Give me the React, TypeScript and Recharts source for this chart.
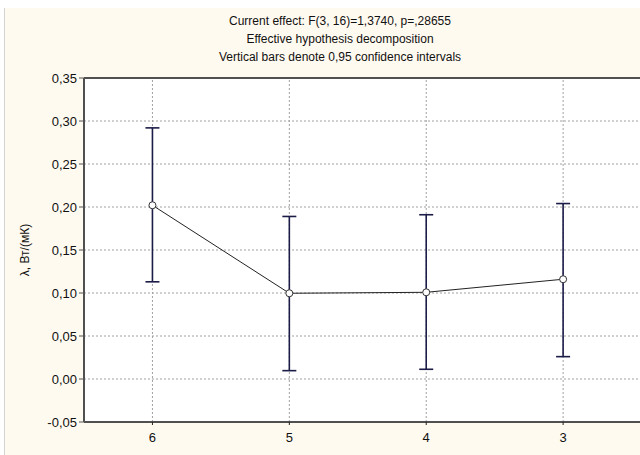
import React from 'react';
import {
  LineChart,
  Line,
  XAxis,
  YAxis,
  CartesianGrid,
  ErrorBar,
  ReferenceLine,
} from 'recharts';

const categories = ['6', '5', '4', '3'];
const means = [0.202, 0.0997, 0.1008, 0.116];
const ciLow = [0.113, 0.0097, 0.0113, 0.026];
const ciHigh = [0.292, 0.189, 0.191, 0.204];
const yTicks = [-0.05, 0, 0.05, 0.1, 0.15, 0.2, 0.25, 0.3, 0.35];
const xTicks = [0, 1, 2, 3];

const titleLines = [
  'Current effect: F(3, 16)=1,3740, p=,28655',
  'Effective hypothesis decomposition',
  'Vertical bars denote 0,95 confidence intervals',
];

const data = categories.map((c, i) => ({
  idx: i,
  name: c,
  mean: means[i],
  err: [means[i] - ciLow[i], ciHigh[i] - means[i]],
}));

const font = '"Liberation Sans", Arial, sans-serif';
const frame = '#505050';
const gridColor = '#a0a0a0';

const fmt = (v: number) => v.toFixed(2).replace('.', ',');

const YLabel = (props: any) => {
  const { viewBox } = props;
  const x = viewBox.x + 25;
  const y = viewBox.y + viewBox.height / 2;
  return (
    <text
      x={x}
      y={y}
      transform={`rotate(-90, ${x}, ${y})`}
      textAnchor="middle"
      dominantBaseline="central"
      fontSize={12}
      fontFamily={font}
      fill="#111"
    >
      λ, Вт/(мК)
    </text>
  );
};

export default function App() {
  return (
    <div
      style={{
        position: 'absolute',
        left: 0,
        top: 0,
        width: 640,
        height: 455,
        overflow: 'hidden',
        background: '#fff',
        fontFamily: font,
      }}
    >
      <div
        style={{
          position: 'absolute',
          left: 4,
          top: 8,
          width: 700,
          height: 455,
          background: '#fffaf0',
          borderLeft: '1px solid #d4d4d4',
        }}
      />
      <div
        style={{
          position: 'absolute',
          left: 140,
          top: 12,
          width: 400,
          textAlign: 'center',
          fontSize: 12,
          lineHeight: '18px',
          color: '#111',
        }}
      >
        {titleLines.map((t) => (
          <div key={t}>{t}</div>
        ))}
      </div>
      <div style={{ position: 'absolute', left: 0, top: 0 }}>
        <LineChart
          width={700}
          height={455}
          data={data}
          margin={{ top: 78, right: 0, left: 0, bottom: 8 }}
        >
          <CartesianGrid
            fill="#ffffff"
            stroke={gridColor}
            strokeDasharray="2 2"
            vertical={false}
          />
          {xTicks.map((t) => (
            <ReferenceLine
              key={t}
              x={t}
              stroke={gridColor}
              strokeDasharray="2 2"
            />
          ))}
          <XAxis
            type="number"
            dataKey="idx"
            domain={[-0.5, 4.0]}
            ticks={xTicks}
            interval={0}
            allowDecimals={false}
            tickFormatter={(v: number) => categories[v]}
            height={25}
            axisLine={{ stroke: frame, strokeWidth: 2 }}
            tickLine={{ stroke: '#222' }}
            tickSize={3}
            tick={{ fontSize: 13, fill: '#111', fontFamily: font, dy: 6 }}
          />
          <YAxis
            type="number"
            domain={[-0.05, 0.35]}
            ticks={yTicks}
            tickFormatter={fmt}
            width={84}
            axisLine={{ stroke: frame, strokeWidth: 2 }}
            tickLine={{ stroke: '#555' }}
            tickSize={5}
            tick={{ fontSize: 13, fill: '#111', fontFamily: font }}
            label={<YLabel />}
          />
          <ReferenceLine y={0.35} stroke={frame} strokeWidth={2} />
          <Line
            dataKey="mean"
            stroke="#222"
            strokeWidth={1}
            isAnimationActive={false}
            dot={{ r: 3.5, fill: '#fff', stroke: '#333', strokeWidth: 1 }}
          >
            <ErrorBar
              dataKey="err"
              width={7}
              stroke="#1c1c48"
              strokeWidth={1.6}
              direction="y"
            />
          </Line>
        </LineChart>
      </div>
    </div>
  );
}
